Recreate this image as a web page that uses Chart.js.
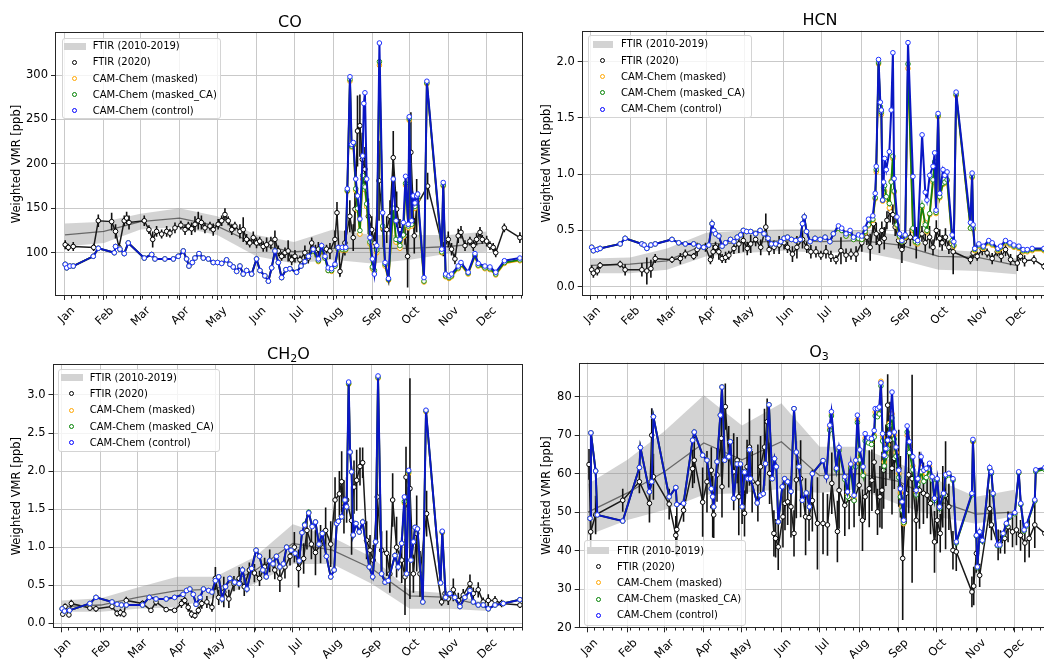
<!DOCTYPE html>
<html>
<head>
<meta charset="utf-8">
<title>FTIR vs CAM-Chem 2020</title>
<script src="https://cdn.jsdelivr.net/npm/chart.js@4.4.1/dist/chart.umd.min.js"></script>
<style>
  html, body { margin: 0; padding: 0; background: #fff; }
  body { position: relative; width: 1044px; height: 659px; overflow: hidden; font-family: "DejaVu Sans", sans-serif; color: #000; }
  .panel { position: absolute; }
  .panel canvas { display: block; }
  .title { position: absolute; font-size: 16px; line-height: 16px; transform: translate(-50%, -50%); white-space: nowrap; }
  .title sub { font-size: 11px; line-height: 0; vertical-align: -3px; }
  .legend { position: absolute; box-sizing: border-box; background: rgba(255,255,255,0.8); border: 1px solid #d4d4d4; border-radius: 3px; }
  .legend .txt { position: absolute; font-size: 10px; line-height: 12px; white-space: nowrap; }
  .legend .dot { position: absolute; width: 3px; height: 3px; border: 1px solid; border-radius: 50%; background: #fff; }
  .legend .patch { position: absolute; height: 7px; background: #d3d3d3; }
</style>
</head>
<body>
<script>
// ---- data (day of year 2020, 0 = Jan 1) ----
const monthNames = ['Jan', 'Feb', 'Mar', 'Apr', 'May', 'Jun', 'Jul', 'Aug', 'Sep', 'Oct', 'Nov', 'Dec'];
const monthStarts = [0, 31, 60, 91, 121, 152, 182, 213, 244, 274, 305, 335];

// CO
const coClimMean = [120, 124, 135, 139, 130, 109, 101, 105, 105, 105, 107, 111];
const coClimLow = [107, 111, 126, 129, 120, 96, 88, 92, 88, 92, 99, 101];
const coClimHigh = [133, 135, 144, 150, 141, 120, 112, 126, 120, 120, 120, 124];
// [day, ppb, error]
const coFtir = [[0.2,109,5],[2.7,106,4],[6.6,107,5],[22.8,106,4],[26.5,136,7],[37.1,135,10],[40.2,124,8],[42.9,106,5],[47.1,136,6],[49.0,139,7],[50.9,134,8],[63.0,136,6],[66.7,126,5],[69.7,115,9],[72.8,124,6],[76.8,121,5],[80.8,124,6],[83.4,122,5],[87.4,128,6],[92.1,131,5],[95.4,126,6],[98.0,130,5],[100.6,127,7],[103.3,132,9],[105.9,136,10],[108.4,134,8],[111.2,128,6],[115.2,130,5],[117.8,126,7],[121.7,132,6],[124.5,136,6],[127.1,143,7],[129.7,136,5],[132.5,126,6],[135.0,130,5],[139.0,124,8],[141.6,126,14],[144.3,115,6],[146.8,111,5],[149.6,117,7],[152.2,111,6],[154.7,113,5],[157.5,107,6],[160.2,109,8],[163.6,111,7],[166.8,115,10],[169.5,102,6],[172.1,96,5],[174.8,100,6],[177.3,102,12],[180.1,92,6],[182.7,96,7],[186.7,92,5],[190.6,100,8],[193.3,94,6],[196.0,111,6],[199.0,102,7],[201.3,104,8],[204.4,104,6],[207.8,104,5],[210.5,102,9],[214.5,115,10],[216.1,145,12],[218.5,79,6],[222.4,111,14],[226.3,141,18],[229.0,117,15],[230.4,149,25],[232.4,237,40],[234.3,243,35],[236.2,205,30],[238.3,194,25],[241.0,141,20],[243.7,126,15],[246.2,111,12],[249.5,181,45],[252.9,126,20],[255.6,126,15],[258.2,141,18],[260.8,207,30],[263.5,149,20],[266.1,126,12],[270.1,119,10],[272.2,96,35],[274.8,213,45],[277.5,119,20],[279.4,153,30],[288.1,175,15],[300.5,104,8],[304.5,115,9],[307.1,104,7],[309.8,93,6],[312.4,119,8],[314.6,123,7],[317.8,108,6],[321.7,113,5],[324.4,108,6],[327.0,115,7],[329.7,123,6],[331.5,115,5],[335.0,113,6],[337.6,108,5],[340.2,106,5],[342.2,100,5],[349.0,128,5],[361.4,117,6]];
// [day, ppb]
const coControl = [[0.2,87],[1.4,83],[3.9,85],[6.6,85],[22.5,96],[26.5,105],[39.2,100],[40.2,107],[43.7,104],[47.1,99],[50.3,111],[63.0,94],[68.9,98],[71.5,93],[79.4,93],[86.1,93],[90.0,96],[94.0,102],[96.6,93],[98.5,85],[101.2,89],[103.3,94],[106.5,99],[109.9,94],[113.9,93],[117.8,89],[121.2,89],[124.5,88],[128.4,92],[131.1,87],[133.7,84],[136.4,79],[139.0,85],[141.6,76],[144.3,80],[148.3,76],[152.2,93],[154.9,80],[158.8,74],[161.6,68],[164.2,83],[166.8,102],[169.5,89],[172.1,72],[175.6,81],[178.7,82],[184.0,78],[187.5,85],[190.6,90],[193.4,96],[197.2,104],[201.3,93],[203.9,108],[206.6,96],[209.1,83],[211.8,82],[214.5,87],[217.1,106],[220.3,106],[223.0,106],[224.3,172],[226.4,298],[227.7,222],[229.1,224],[231.0,183],[232.4,164],[234.3,138],[236.5,209],[237.4,268],[238.3,280],[239.7,183],[242.3,117],[244.2,93],[245.8,76],[247.7,108],[249.8,336],[252.4,145],[254.3,89],[257.0,71],[260.8,183],[263.0,136],[266.1,115],[268.8,134],[270.6,186],[272.7,132],[273.5,253],[275.4,136],[276.7,164],[278.0,156],[279.4,164],[280.2,166],[285.2,72],[287.5,293],[299.3,104],[300.5,179],[302.4,76],[305.1,74],[307.1,76],[312.4,85],[314.6,89],[320.3,78],[325.7,99],[328.3,88],[333.6,85],[337.6,84],[342.2,78],[349.1,91],[361.4,94]];
const coMaskedCA = [[0.2,87],[1.4,83],[3.9,85],[6.6,85],[22.5,96],[26.5,105],[39.2,100],[40.2,107],[43.7,104],[47.1,99],[50.3,111],[63.0,94],[68.9,98],[71.5,93],[79.4,93],[86.1,93],[90.0,96],[94.0,102],[96.6,93],[98.5,85],[101.2,89],[103.3,94],[106.5,99],[109.9,94],[113.9,93],[117.8,89],[121.2,89],[124.5,88],[128.4,92],[131.1,87],[133.7,84],[136.4,79],[139.0,85],[141.6,76],[144.3,80],[148.3,76],[152.2,93],[154.9,80],[158.8,74],[161.6,68],[164.2,83],[166.8,102],[169.5,89],[172.1,72],[175.6,81],[178.7,82],[184.0,78],[187.5,85],[190.6,90],[193.4,96],[197.2,102],[201.3,91],[203.9,105],[206.6,94],[209.1,80],[211.8,80],[214.5,85],[217.1,104],[220.3,104],[223.0,104],[224.3,170],[226.4,295],[227.7,220],[229.1,222],[231.0,172],[232.4,150],[234.3,125],[236.5,187],[237.4,175],[238.3,174],[239.7,155],[242.3,112],[244.2,84],[245.8,80],[247.7,103],[249.8,315],[252.4,130],[254.3,87],[257.0,70],[260.8,150],[263.0,115],[266.1,108],[268.8,120],[270.6,178],[272.7,130],[273.5,251],[275.4,132],[276.7,160],[278.0,152],[279.4,158],[280.2,162],[285.2,68],[287.5,291],[299.3,101],[300.5,176],[302.4,74],[305.1,72],[307.1,74],[312.4,83],[314.6,87],[320.3,77],[325.7,97],[328.3,86],[333.6,83],[337.6,82],[342.2,76],[349.1,89],[361.4,92]];
const coMasked = [[0.2,87],[1.4,83],[3.9,85],[6.6,85],[22.5,96],[26.5,105],[39.2,100],[40.2,107],[43.7,104],[47.1,99],[50.3,111],[63.0,94],[68.9,98],[71.5,93],[79.4,93],[86.1,93],[90.0,96],[94.0,102],[96.6,93],[98.5,85],[101.2,89],[103.3,94],[106.5,99],[109.9,94],[113.9,93],[117.8,89],[121.2,89],[124.5,88],[128.4,92],[131.1,87],[133.7,84],[136.4,79],[139.0,85],[141.6,76],[144.3,80],[148.3,76],[152.2,93],[154.9,80],[158.8,74],[161.6,68],[164.2,83],[166.8,102],[169.5,89],[172.1,72],[175.6,81],[178.7,82],[184.0,78],[187.5,85],[190.6,90],[193.4,96],[197.2,102],[201.3,90],[203.9,104],[206.6,94],[209.1,80],[211.8,79],[214.5,85],[217.1,103],[220.3,103],[223.0,103],[224.3,169],[226.4,293],[227.7,219],[229.1,221],[231.0,170],[232.4,148],[234.3,121],[236.5,183],[237.4,172],[238.3,171],[239.7,152],[242.3,110],[244.2,82],[245.8,78],[247.7,100],[249.8,311],[252.4,128],[254.3,85],[257.0,69],[260.8,148],[263.0,112],[266.1,105],[268.8,118],[270.6,176],[272.7,128],[273.5,249],[275.4,130],[276.7,158],[278.0,150],[279.4,156],[280.2,160],[285.2,67],[287.5,290],[299.3,100],[300.5,175],[302.4,73],[305.1,71],[307.1,73],[312.4,82],[314.6,86],[320.3,76],[325.7,96],[328.3,85],[333.6,82],[337.6,81],[342.2,75],[349.1,88],[361.4,91]];

// HCN
const hcnClimMean = [0.19, 0.20, 0.23, 0.38, 0.39, 0.41, 0.40, 0.41, 0.37, 0.27, 0.26, 0.19];
const hcnClimLow = [0.12, 0.12, 0.15, 0.27, 0.30, 0.32, 0.30, 0.31, 0.24, 0.15, 0.14, 0.11];
const hcnClimHigh = [0.25, 0.26, 0.34, 0.48, 0.50, 0.51, 0.51, 0.50, 0.46, 0.33, 0.31, 0.25];
const hcnFtir = [[0.8,0.15,0.04],[2.1,0.12,0.04],[5.2,0.14,0.04],[7.4,0.19,0.03],[23.2,0.20,0.03],[27.1,0.15,0.05],[40.3,0.15,0.06],[44.2,0.14,0.12],[47.4,0.16,0.08],[50.8,0.25,0.04],[64,0.24,0.03],[70.6,0.25,0.05],[74.5,0.29,0.04],[81.1,0.27,0.03],[83.8,0.33,0.06],[90.4,0.35,0.04],[94.3,0.24,0.04],[96.4,0.31,0.06],[98.3,0.35,0.05],[100.9,0.31,0.07],[103.5,0.25,0.04],[106.2,0.26,0.05],[108.8,0.28,0.04],[112.8,0.34,0.05],[116.7,0.38,0.08],[120.2,0.41,0.10],[123.3,0.34,0.06],[126,0.38,0.08],[129.9,0.42,0.06],[133.9,0.35,0.07],[137.9,0.53,0.12],[140.5,0.33,0.05],[144.4,0.35,0.06],[148.4,0.37,0.08],[152.3,0.39,0.06],[155,0.35,0.05],[158.9,0.29,0.07],[162.4,0.35,0.10],[166.8,0.42,0.08],[170.2,0.35,0.05],[173.4,0.31,0.06],[177.4,0.31,0.05],[181.3,0.28,0.04],[185.3,0.31,0.06],[189.2,0.27,0.05],[193.2,0.24,0.04],[197.1,0.32,0.12],[201.1,0.28,0.06],[205,0.29,0.05],[209,0.29,0.07],[213.5,0.39,0.08],[217.5,0.44,0.07],[220.1,0.35,0.12],[222.7,0.56,0.08],[224.9,0.47,0.10],[227.4,0.39,0.09],[229.3,0.50,0.08],[231.2,0.43,0.10],[233.3,0.59,0.08],[235.9,0.67,0.10],[238,0.64,0.09],[239.8,0.53,0.08],[242.5,0.41,0.07],[245.1,0.33,0.12],[246.9,0.40,0.06],[251.7,0.44,0.08],[256.4,0.39,0.14],[260.9,0.47,0.07],[263.5,0.39,0.08],[266.9,0.44,0.10],[269.6,0.35,0.07],[272.2,0.50,0.09],[274.9,0.43,0.08],[276.8,0.39,0.07],[279.4,0.44,0.08],[282.1,0.35,0.06],[285.5,0.31,0.20],[299.1,0.24,0.04],[301.2,0.30,0.05],[304.4,0.27,0.04],[308.4,0.33,0.05],[312.2,0.30,0.04],[316.2,0.25,0.05],[320.2,0.31,0.04],[323.3,0.27,0.05],[326.7,0.33,0.06],[330.7,0.24,0.05],[336,0.21,0.07],[338.5,0.27,0.04],[341.7,0.23,0.05],[349.1,0.24,0.04],[357,0.18,0.03]];
const hcnControl = [[0.8,0.35],[2.1,0.32],[5.2,0.33],[7.4,0.34],[23.2,0.38],[27.1,0.43],[40.3,0.38],[42.1,0.37],[44.2,0.34],[47.4,0.37],[50.8,0.38],[64,0.42],[69.3,0.39],[74.5,0.38],[81.1,0.38],[85.1,0.36],[89,0.35],[93,0.37],[95.6,0.56],[96.9,0.50],[98.3,0.47],[100.9,0.45],[103.5,0.36],[106.2,0.39],[110.1,0.42],[112.8,0.40],[115.4,0.44],[118.1,0.46],[120.2,0.50],[122.8,0.49],[126,0.49],[129.9,0.47],[133.4,0.50],[136.5,0.47],[139.7,0.43],[142.3,0.38],[145.7,0.38],[149.7,0.40],[152.3,0.43],[155,0.44],[158.1,0.42],[161.5,0.41],[165,0.42],[166.8,0.56],[168.2,0.62],[170,0.49],[172.8,0.40],[176.7,0.43],[180.7,0.42],[184.6,0.44],[188.4,0.40],[191.1,0.47],[195.1,0.54],[197.7,0.52],[201.1,0.47],[204.3,0.50],[207,0.44],[210.9,0.46],[213.5,0.45],[216.1,0.52],[218.8,0.60],[222.2,0.63],[224.1,0.83],[224.9,1.07],[226.7,2.02],[228.1,1.64],[228.9,1.57],[229.9,0.77],[230.7,0.93],[231.5,1.14],[232.8,1.04],[235.2,1.20],[236.7,1.57],[238,2.08],[239,0.96],[241.2,0.62],[243.3,0.47],[245.1,0.41],[247.7,0.46],[249.9,2.17],[253.8,0.98],[255.7,0.43],[257.5,0.41],[261,1.35],[263.5,0.84],[264.8,0.77],[267,0.99],[269.6,1.07],[270.9,1.19],[272,0.68],[273.6,1.54],[274.9,0.83],[277.5,1.04],[278.9,0.99],[280.7,1.02],[284.7,0.46],[286,0.40],[287.8,1.73],[299.1,0.57],[300.4,1.01],[301.2,0.55],[302.5,0.34],[305.7,0.38],[309.2,0.36],[313.5,0.41],[316.2,0.39],[320.7,0.34],[322.8,0.36],[326.7,0.41],[330.2,0.39],[333.3,0.37],[337.2,0.36],[340.6,0.33],[343.8,0.33],[347.7,0.34],[357,0.34],[364,0.34]];
const hcnMaskedCA = [[0.8,0.35],[2.1,0.32],[5.2,0.33],[7.4,0.34],[23.2,0.38],[27.1,0.43],[40.3,0.38],[42.1,0.37],[44.2,0.34],[47.4,0.37],[50.8,0.38],[64,0.42],[69.3,0.39],[74.5,0.38],[81.1,0.38],[85.1,0.36],[89,0.35],[93,0.37],[95.6,0.56],[96.9,0.50],[98.3,0.47],[100.9,0.45],[103.5,0.36],[106.2,0.39],[110.1,0.42],[112.8,0.40],[115.4,0.44],[118.1,0.46],[120.2,0.50],[122.8,0.49],[126,0.49],[129.9,0.47],[133.4,0.50],[136.5,0.47],[139.7,0.43],[142.3,0.38],[145.7,0.38],[149.7,0.40],[152.3,0.43],[155,0.44],[158.1,0.42],[161.5,0.41],[165,0.42],[166.8,0.56],[168.2,0.62],[170,0.49],[172.8,0.40],[176.7,0.43],[180.7,0.42],[184.6,0.44],[188.4,0.40],[191.1,0.47],[195.1,0.52],[197.7,0.50],[201.1,0.45],[204.3,0.48],[207,0.42],[210.9,0.43],[213.5,0.42],[216.1,0.49],[218.8,0.55],[222.2,0.60],[224.1,0.79],[224.9,1.04],[226.7,1.99],[228.1,1.60],[228.9,1.55],[229.9,0.77],[230.7,0.88],[231.5,0.90],[232.8,0.80],[235.2,0.74],[236.7,0.93],[238,1.16],[239,0.85],[241.2,0.55],[243.3,0.45],[245.1,0.40],[247.7,0.45],[249.9,1.98],[253.8,0.52],[255.7,0.40],[257.5,0.39],[261,0.72],[263.5,0.55],[264.8,0.50],[267,0.65],[269.6,0.95],[270.9,1.11],[272,0.66],[273.6,1.52],[274.9,0.80],[277.5,0.92],[278.9,0.93],[280.7,0.95],[284.7,0.41],[286,0.37],[287.8,1.71],[299.1,0.52],[300.4,0.98],[301.2,0.52],[302.5,0.33],[305.7,0.37],[309.2,0.35],[313.5,0.40],[316.2,0.38],[320.7,0.33],[322.8,0.35],[326.7,0.40],[330.2,0.38],[333.3,0.36],[337.2,0.35],[340.6,0.32],[343.8,0.32],[347.7,0.33],[357,0.33],[364,0.33]];
const hcnMasked = [[0.8,0.35],[2.1,0.32],[5.2,0.33],[7.4,0.34],[23.2,0.38],[27.1,0.43],[40.3,0.38],[42.1,0.37],[44.2,0.34],[47.4,0.37],[50.8,0.38],[64,0.42],[69.3,0.39],[74.5,0.38],[81.1,0.38],[85.1,0.36],[89,0.35],[93,0.37],[95.6,0.56],[96.9,0.50],[98.3,0.47],[100.9,0.45],[103.5,0.36],[106.2,0.39],[110.1,0.42],[112.8,0.40],[115.4,0.44],[118.1,0.46],[120.2,0.50],[122.8,0.49],[126,0.49],[129.9,0.47],[133.4,0.50],[136.5,0.47],[139.7,0.43],[142.3,0.38],[145.7,0.38],[149.7,0.40],[152.3,0.43],[155,0.44],[158.1,0.42],[161.5,0.41],[165,0.42],[166.8,0.56],[168.2,0.62],[170,0.49],[172.8,0.40],[176.7,0.43],[180.7,0.42],[184.6,0.44],[188.4,0.40],[191.1,0.47],[195.1,0.52],[197.7,0.50],[201.1,0.45],[204.3,0.48],[207,0.42],[210.9,0.43],[213.5,0.42],[216.1,0.48],[218.8,0.54],[222.2,0.59],[224.1,0.78],[224.9,1.02],[226.7,1.98],[228.1,1.58],[228.9,1.53],[229.9,0.76],[230.7,0.86],[231.5,0.85],[232.8,0.78],[235.2,0.70],[236.7,0.94],[238,1.14],[239,0.84],[241.2,0.54],[243.3,0.44],[245.1,0.40],[247.7,0.44],[249.9,1.94],[253.8,0.50],[255.7,0.39],[257.5,0.38],[261,0.70],[263.5,0.57],[264.8,0.49],[267,0.64],[269.6,0.93],[270.9,1.10],[272,0.65],[273.6,1.51],[274.9,0.79],[277.5,0.91],[278.9,0.92],[280.7,0.94],[284.7,0.40],[286,0.36],[287.8,1.70],[299.1,0.52],[300.4,0.97],[301.2,0.51],[302.5,0.32],[305.7,0.36],[309.2,0.34],[313.5,0.39],[316.2,0.37],[320.7,0.32],[322.8,0.34],[326.7,0.39],[330.2,0.37],[333.3,0.35],[337.2,0.34],[340.6,0.31],[343.8,0.31],[347.7,0.32],[357,0.32],[364,0.32]];

// CH2O
const ch2oClimMean = [0.22, 0.24, 0.34, 0.43, 0.45, 0.69, 1.05, 0.96, 0.72, 0.36, 0.34, 0.22];
const ch2oClimLow = [0.15, 0.15, 0.19, 0.21, 0.34, 0.52, 0.78, 0.78, 0.52, 0.19, 0.19, 0.16];
const ch2oClimHigh = [0.30, 0.33, 0.47, 0.61, 0.61, 0.87, 1.30, 1.13, 0.87, 0.43, 0.39, 0.26];
const ch2oFtir = [[1.1,0.12,0.03],[2.9,0.22,0.04],[5.9,0.11,0.03],[7.8,0.26,0.05],[22.4,0.20,0.03],[27.2,0.19,0.04],[39.8,0.22,0.04],[43.8,0.13,0.04],[46.4,0.14,0.05],[49.1,0.12,0.04],[51,0.30,0.05],[63.8,0.26,0.04],[70.4,0.17,0.03],[74.4,0.28,0.05],[82.4,0.18,0.03],[89,0.17,0.03],[94.4,0.26,0.06],[97,0.30,0.05],[99.7,0.21,0.06],[102.4,0.12,0.05],[105,0.10,0.04],[107.7,0.17,0.05],[110.4,0.26,0.07],[114.4,0.28,0.08],[118.4,0.21,0.06],[121.1,0.59,0.15],[123.7,0.34,0.10],[127.7,0.41,0.20],[131.7,0.32,0.12],[135.7,0.52,0.10],[139.8,0.59,0.15],[143.8,0.48,0.12],[147.8,0.70,0.10],[151.8,0.66,0.12],[155.8,0.59,0.10],[159.8,0.74,0.12],[163.8,0.82,0.15],[167.8,0.70,0.12],[171.8,0.59,0.18],[175.8,0.74,0.15],[179.8,0.88,0.12],[183.2,1.00,0.20],[186.5,0.72,0.25],[190.5,0.85,0.20],[193.1,1.22,0.25],[196.6,1.04,0.20],[199.8,0.93,0.30],[203.8,1.04,0.25],[207.8,1.22,0.30],[211.8,1.04,0.30],[215.2,1.62,0.30],[218.6,1.70,0.30],[220.4,1.86,0.40],[222.2,1.53,0.35],[224.3,1.62,0.30],[228.2,1.35,0.45],[230.1,1.79,0.35],[232.2,1.88,0.40],[234.8,2.06,0.25],[236.9,2.11,0.20],[240.0,1.09,0.25],[242.7,0.96,0.20],[245.2,0.83,0.20],[248.4,1.66,0.60],[251.8,0.96,0.25],[255.8,0.92,0.30],[258.3,0.65,0.25],[260.5,1.62,0.35],[263.6,1.00,0.40],[267.6,0.83,0.30],[270.2,0.61,0.50],[271.0,1.92,0.40],[274.1,1.77,1.45],[276.8,0.65,0.25],[279.4,1.18,0.50],[282.0,0.65,0.30],[287.2,1.44,0.30],[299.0,0.28,0.05],[301.7,0.39,0.10],[304.2,0.32,0.08],[308.2,0.44,0.15],[312.1,0.30,0.10],[316.0,0.37,0.08],[321.3,0.52,0.12],[323.9,0.39,0.08],[327.8,0.44,0.10],[331.7,0.28,0.06],[335.7,0.30,0.08],[341.0,0.30,0.06],[346.2,0.26,0.05],[360.6,0.24,0.04]];
const ch2oControl = [[0.6,0.19],[2.4,0.16],[6.4,0.17],[22.4,0.26],[27.2,0.34],[39.8,0.28],[43.8,0.25],[47.2,0.24],[51,0.24],[63.8,0.24],[69.1,0.34],[74.4,0.32],[82.4,0.32],[89,0.34],[95.7,0.38],[98.4,0.43],[101,0.45],[103.7,0.38],[105.9,0.25],[109.1,0.34],[111.7,0.45],[115.8,0.43],[118.4,0.41],[121.1,0.56],[123.7,0.61],[126.4,0.32],[129.1,0.48],[132.5,0.59],[136.3,0.54],[139.8,0.52],[142.4,0.70],[145.9,0.45],[149.6,0.72],[153.1,0.96],[155.8,0.88],[158.4,0.70],[161.1,0.61],[163.8,0.82],[166.4,0.78],[169.1,0.88],[171.8,0.74],[174.5,0.78],[177.1,1.00],[180.6,0.96],[183.8,0.92],[187,0.82],[189.2,1.19],[191.3,1.29],[194.5,1.45],[197.2,1.27],[199.8,1.33],[202.5,1.04],[205.2,1.18],[208.4,0.88],[211.8,0.61],[214.5,0.70],[216.5,1.31],[217.8,1.34],[220.4,1.40],[223.0,1.62],[224.3,1.53],[225.9,3.17],[227.0,2.25],[228.2,1.99],[229.5,1.16],[231.7,1.31],[234.2,1.20],[236.9,1.33],[242.1,0.74],[244.8,0.61],[247.1,1.07],[249.0,3.25],[251.8,0.65],[254.5,0.54],[257.0,0.56],[262.3,0.89],[264.9,0.74],[267.6,1.05],[269.7,1.66],[271.5,0.65],[273.1,2.01],[274.9,0.83],[276.8,1.07],[278.1,1.26],[280.0,1.24],[284.2,0.28],[286.7,2.80],[298.2,0.53],[299.5,1.21],[302.2,0.34],[305.5,0.39],[309.4,0.34],[313.4,0.22],[317.3,0.34],[321.3,0.43],[323.9,0.28],[327.8,0.24],[331.7,0.24],[335.7,0.19],[341.0,0.24],[347.5,0.26],[360.6,0.31]];
const ch2oMaskedCA = [[0.6,0.19],[2.4,0.16],[6.4,0.17],[22.4,0.26],[27.2,0.34],[39.8,0.28],[43.8,0.25],[47.2,0.24],[51,0.24],[63.8,0.24],[69.1,0.34],[74.4,0.32],[82.4,0.32],[89,0.34],[95.7,0.38],[98.4,0.43],[101,0.45],[103.7,0.38],[105.9,0.25],[109.1,0.34],[111.7,0.45],[115.8,0.43],[118.4,0.41],[121.1,0.56],[123.7,0.61],[126.4,0.32],[129.1,0.48],[132.5,0.59],[136.3,0.54],[139.8,0.52],[142.4,0.70],[145.9,0.45],[149.6,0.72],[153.1,0.96],[155.8,0.88],[158.4,0.70],[161.1,0.61],[163.8,0.82],[166.4,0.78],[169.1,0.88],[171.8,0.74],[174.5,0.78],[177.1,1.00],[180.6,0.96],[183.8,0.92],[187,0.82],[189.2,1.19],[191.3,1.30],[194.5,1.46],[197.2,1.28],[199.8,1.33],[202.5,1.04],[205.2,1.18],[208.4,0.88],[211.8,0.61],[214.5,0.70],[216.5,1.31],[217.8,1.34],[220.4,1.40],[223.0,1.60],[224.3,1.53],[225.9,3.15],[227.0,2.25],[228.2,1.99],[229.5,1.16],[231.7,1.31],[234.2,1.20],[236.9,1.33],[242.1,0.74],[244.8,0.61],[247.1,1.07],[249.0,3.23],[251.8,0.65],[254.5,0.54],[257.0,0.56],[262.3,0.89],[264.9,0.74],[267.6,1.05],[269.7,1.60],[271.5,0.65],[273.1,1.99],[274.9,0.83],[276.8,1.07],[278.1,1.26],[280.0,1.24],[284.2,0.28],[286.7,2.79],[298.2,0.53],[299.5,1.20],[302.2,0.34],[305.5,0.39],[309.4,0.34],[313.4,0.22],[317.3,0.34],[321.3,0.43],[323.9,0.28],[327.8,0.24],[331.7,0.24],[335.7,0.19],[341.0,0.24],[347.5,0.26],[360.6,0.31]];
const ch2oMasked = [[0.6,0.19],[2.4,0.16],[6.4,0.17],[22.4,0.26],[27.2,0.34],[39.8,0.28],[43.8,0.25],[47.2,0.24],[51,0.24],[63.8,0.24],[69.1,0.34],[74.4,0.32],[82.4,0.32],[89,0.34],[95.7,0.38],[98.4,0.43],[101,0.45],[103.7,0.38],[105.9,0.25],[109.1,0.34],[111.7,0.45],[115.8,0.43],[118.4,0.41],[121.1,0.56],[123.7,0.61],[126.4,0.32],[129.1,0.48],[132.5,0.59],[136.3,0.54],[139.8,0.52],[142.4,0.70],[145.9,0.45],[149.6,0.72],[153.1,0.96],[155.8,0.88],[158.4,0.70],[161.1,0.61],[163.8,0.82],[166.4,0.78],[169.1,0.88],[171.8,0.74],[174.5,0.78],[177.1,1.00],[180.6,0.96],[183.8,0.92],[187,0.82],[189.2,1.19],[191.3,1.29],[194.5,1.45],[197.2,1.27],[199.8,1.33],[202.5,1.04],[205.2,1.18],[208.4,0.88],[211.8,0.61],[214.5,0.70],[216.5,1.31],[217.8,1.34],[220.4,1.40],[223.0,1.58],[224.3,1.53],[225.9,3.14],[227.0,2.25],[228.2,1.99],[229.5,1.16],[231.7,1.31],[234.2,1.20],[236.9,1.33],[242.1,0.74],[244.8,0.61],[247.1,1.07],[249.0,3.22],[251.8,0.65],[254.5,0.54],[257.0,0.56],[262.3,0.89],[264.9,0.74],[267.6,1.05],[269.7,1.58],[271.5,0.65],[273.1,1.97],[274.9,0.83],[276.8,1.07],[278.1,1.26],[280.0,1.24],[284.2,0.28],[286.7,2.78],[298.2,0.53],[299.5,1.19],[302.2,0.34],[305.5,0.39],[309.4,0.34],[313.4,0.22],[317.3,0.34],[321.3,0.43],[323.9,0.28],[327.8,0.24],[331.7,0.24],[335.7,0.19],[341.0,0.24],[347.5,0.26],[360.6,0.31]];

// O3
const o3ClimMean = [50, 55, 60.5, 68, 63.6, 68.3, 59.5, 60, 58, 53, 49.5, 50];
const o3ClimLow = [44, 48, 50.6, 54.5, 55, 56, 55, 56, 52, 48.8, 47, 49];
const o3ClimHigh = [57.3, 63.6, 71, 80.4, 72.5, 78.3, 67, 67, 62.7, 58.4, 54, 55.8];
const o3Ftir = [[0.8,62.4,4],[2.1,44.9,4],[6,49.3,5],[27.3,53.1,3],[40.4,57.9,3],[48.3,52.3,5],[50.1,70,7],[51.4,59.2,6],[63.8,52.1,4],[69,44,5],[69.8,45.5,7],[75.1,50.5,3],[82.2,61.3,5],[83.5,63.5,6],[90.1,52.6,9],[93.5,57.9,8],[96.9,60.9,6],[98,51.4,8],[98.8,49.3,6],[101.4,59.7,7],[104.8,69.2,10],[105.3,56.6,8],[107.9,77.4,6],[110.6,64.4,8],[114.5,60.5,10],[117.2,63.5,6],[118.5,54,10],[121.1,54.9,8],[123,49.7,6],[125,61.8,7],[126.9,66.9,10],[129,57.9,8],[133.5,57.6,10],[135.6,61.8,8],[138.7,66.9,10],[140.8,73.5,6],[142.7,60.1,8],[146.1,44.5,6],[147.4,43.2,5],[149.5,41,6],[153.2,48.8,8],[154.8,52.3,7],[156.9,52.7,6],[159.5,51.4,8],[161.9,44.5,6],[163.7,58.4,10],[167.1,58.7,10],[171,48.8,10],[173.7,48.6,6],[176.3,53,8],[180.3,47.1,12],[184.7,47.1,8],[188.2,46.7,8],[191.6,57.5,8],[196,45,8],[197.3,55.7,10],[201.8,51.8,8],[205.2,53.6,8],[209.1,53.1,7],[213.1,57,8],[215.7,47.9,8],[217.8,54,6],[221,56.1,10],[223.1,58.3,8],[224.9,63,8],[227.5,50.1,6],[229.4,54,8],[231,55.7,10],[232.3,60.9,10],[234.1,64.8,8],[235.5,77.8,8],[237.3,68.7,10],[238.9,61.4,12],[240.7,64,8],[244.2,61.4,10],[245.5,56.6,8],[247.3,38,16],[249.9,54.9,8],[252,59.7,10],[254.7,58.7,27],[257.9,47.9,8],[260.5,55.7,10],[263.6,54.9,8],[266.5,54.4,6],[269.2,52.3,8],[272.3,42.3,8],[274.4,47.9,6],[276.8,44.5,5],[278.8,54,8],[281,54.4,14],[283.6,51.4,6],[286.8,40.1,5],[289.4,39.7,5],[301.7,29.3,4],[303.1,30.8,5],[305.2,39.3,5],[307.8,33.6,3],[315.7,50.9,5],[317,46.7,4],[322.3,41.5,4],[324.1,42.3,3],[327.5,43.2,4],[330.1,46.2,4],[333.6,44.9,4],[336.7,45.4,4],[339.9,44,4],[343.3,42,5],[346.7,43.2,5],[351.1,46.7,6],[359,44.5,5],[364,43,4]];
const o3Control = [[1.6,48.4],[2.3,70.6],[6,60.7],[7.3,49.3],[27.3,47.7],[40.4,61.6],[41.2,66.8],[48.3,55.3],[50.1,57.9],[51.4,74.8],[63.8,54],[69,56.4],[69.8,52],[75.1,52.3],[82.2,68.7],[83.5,70.8],[90.1,64.8],[93.5,63.5],[96.9,56.1],[98,54],[98.8,51.4],[101.4,63.1],[104,75.2],[105.3,82.5],[107.4,63.5],[110.6,64.4],[111.9,68.3],[114.5,53.6],[117.2,62.5],[119.8,62.5],[121.1,51.4],[123,60.4],[125.6,58.7],[126.9,66.2],[127.7,58.7],[133,52.4],[135.6,54.4],[137.7,54.8],[139.5,62.6],[142.2,77.9],[144.8,58.7],[146.6,63.9],[148,61.8],[149.5,47.5],[152.7,56.6],[154.5,58.7],[156.9,57.9],[159.5,55.4],[161.9,76.9],[163.7,65.6],[165.8,61.8],[168.4,53.1],[171.5,55],[174,51.4],[176.3,60],[184.7,63.4],[187.3,59.2],[190,72.6],[191.3,76.1],[195.2,61.4],[197.3,66.8],[201.8,59.2],[203.9,55.3],[206.5,62.5],[209.1,54.4],[210.4,63.5],[211.7,75.2],[213.6,66.2],[216.2,61.8],[217.8,70.4],[220.4,69.3],[222.8,69.1],[224.9,71.2],[225.7,76.9],[227.5,76.9],[228.9,77.3],[230.2,83.6],[231.5,70.4],[232.8,64.8],[234.1,66.5],[235.5,68.7],[236.8,70.4],[238.9,81.2],[240.7,70.8],[242.1,66.9],[244.2,60.9],[245.5,56.1],[246.8,52.7],[248.1,47.9],[250.8,72.4],[252.6,68.3],[255.3,64.4],[257.9,55.7],[259.2,58.7],[261.8,64.4],[263.9,60.9],[265.8,61.4],[268.4,62.7],[270.5,59.2],[272.3,53.6],[274.4,58.7],[276.3,51.4],[279.4,54.9],[281,59.7],[283.6,60.1],[286.8,58.7],[289.4,42.3],[301.7,54.9],[302.5,68.9],[305.2,44],[306,35.8],[307.8,44.9],[309.9,42.7],[315.7,61.6],[317,60.5],[318.3,54.9],[321.7,41.5],[323.6,41.5],[326.2,44.5],[328.8,47.1],[331.4,49],[335.4,49.9],[338.5,60.5],[340.1,52.3],[342.7,45.4],[344.6,46.7],[351.1,53.2],[351.9,61],[359,61.6],[364,61.8]];
const o3MaskedCA = [[1.6,48.4],[2.3,70.6],[6,60.7],[7.3,49.3],[27.3,47.7],[40.4,61.6],[41.2,66.8],[48.3,55.3],[50.1,57.9],[51.4,74.8],[63.8,54],[69,56.4],[69.8,52],[75.1,52.3],[82.2,68.7],[83.5,70.8],[90.1,64.8],[93.5,63.5],[96.9,56.1],[98,54],[98.8,51.4],[101.4,63.1],[104,75.2],[105.3,82.5],[107.4,63.5],[110.6,64.4],[111.9,68.3],[114.5,53.6],[117.2,62.5],[119.8,62.5],[121.1,51.4],[123,60.4],[125.6,58.7],[126.9,66.2],[127.7,58.7],[133,52.4],[135.6,54.4],[137.7,54.8],[139.5,62.6],[142.2,77.9],[144.8,58.7],[146.6,63.9],[148,61.8],[149.5,47.5],[152.7,56.6],[154.5,58.7],[156.9,57.9],[159.5,55.4],[161.9,76.9],[163.7,65.6],[165.8,61.8],[168.4,53.1],[171.5,55],[174,51.4],[176.3,60],[184.7,63.4],[187.3,59.2],[190,71.3],[191.3,75],[195.2,61],[197.3,66],[201.8,58.5],[203.9,54],[206.5,61.5],[209.1,53],[210.4,61.8],[211.7,73.3],[213.6,63.6],[216.2,59.5],[217.8,68.5],[220.4,68],[222.8,67.6],[224.9,69.5],[225.7,75],[227.5,74.8],[228.9,75.5],[230.2,82.8],[231.5,68.5],[232.8,62],[234.1,64.5],[235.5,66.5],[236.8,72.5],[238.9,74.5],[240.7,69],[242.1,64.5],[244.2,59],[245.5,54],[246.8,50.5],[248.1,47.3],[250.8,70.8],[252.6,65.5],[255.3,61],[257.9,54.5],[259.2,57.2],[261.8,60.5],[263.9,58],[265.8,59],[268.4,61.2],[270.5,58.3],[272.3,53],[274.4,58.3],[276.3,51],[279.4,54.5],[281,59.3],[283.6,59.7],[286.8,58.3],[289.4,42],[301.7,54.5],[302.5,68.5],[305.2,43.8],[306,35.6],[307.8,44.6],[309.9,42.5],[315.7,61.2],[317,60.1],[318.3,54.6],[321.7,41.3],[323.6,41.3],[326.2,44.2],[328.8,46.8],[331.4,48.7],[335.4,49.6],[338.5,60.2],[340.1,52],[342.7,45.1],[344.6,46.4],[351.1,52.9],[351.9,60.6],[359,61.1],[364,61.3]];
const o3Masked = [[1.6,48.4],[2.3,70.6],[6,60.7],[7.3,49.3],[27.3,47.7],[40.4,61.6],[41.2,66.8],[48.3,55.3],[50.1,57.9],[51.4,74.8],[63.8,54],[69,56.4],[69.8,52],[75.1,52.3],[82.2,68.7],[83.5,70.8],[90.1,64.8],[93.5,63.5],[96.9,56.1],[98,54],[98.8,51.4],[101.4,63.1],[104,75.2],[105.3,82.5],[107.4,63.5],[110.6,64.4],[111.9,68.3],[114.5,53.6],[117.2,62.5],[119.8,62.5],[121.1,51.4],[123,60.4],[125.6,58.7],[126.9,66.2],[127.7,58.7],[133,52.4],[135.6,54.4],[137.7,54.8],[139.5,62.6],[142.2,77.9],[144.8,58.7],[146.6,63.9],[148,61.8],[149.5,47.5],[152.7,56.6],[154.5,58.7],[156.9,57.9],[159.5,55.4],[161.9,76.9],[163.7,65.6],[165.8,61.8],[168.4,53.1],[171.5,55],[174,51.4],[176.3,60],[184.7,63.4],[187.3,59.2],[190,72],[191.3,75.5],[195.2,61.2],[197.3,66.4],[201.8,58.8],[203.9,54.5],[206.5,62],[209.1,53.5],[210.4,62.5],[211.7,74],[213.6,64],[216.2,60],[217.8,69.2],[220.4,68.5],[222.8,68],[224.9,70],[225.7,76],[227.5,75.5],[228.9,76.8],[230.2,84],[231.5,69.5],[232.8,63],[234.1,65.5],[235.5,67.5],[236.8,73],[238.9,75.5],[240.7,70],[242.1,65.5],[244.2,60],[245.5,55],[246.8,51.5],[248.1,47],[250.8,70],[252.6,66.5],[255.3,62],[257.9,55],[259.2,58],[261.8,61.5],[263.9,59],[265.8,60],[268.4,61.8],[270.5,58.8],[272.3,53.3],[274.4,58.5],[276.3,51.2],[279.4,54.7],[281,59.5],[283.6,59.9],[286.8,58.5],[289.4,42.1],[301.7,54.7],[302.5,68.3],[305.2,43.9],[306,35.7],[307.8,44.7],[309.9,42.6],[315.7,61.4],[317,60.3],[318.3,54.7],[321.7,41.4],[323.6,41.4],[326.2,44.3],[328.8,46.9],[331.4,48.8],[335.4,49.7],[338.5,60.3],[340.1,52.1],[342.7,45.2],[344.6,46.5],[351.1,53],[351.9,60.7],[359,61.2],[364,61.5]];

const legendLabels = ['FTIR (2010-2019)', 'FTIR (2020)', 'CAM-Chem (masked)', 'CAM-Chem (masked_CA)', 'CAM-Chem (control)'];
const legendColors = [null, '#000000', '#ffa500', '#008000', '#0000ff'];

// ---- drawing ----
Chart.defaults.font.family = '"DejaVu Sans", sans-serif';
Chart.defaults.color = '#000';

// vertical error bars for the FTIR 2020 series, drawn just under its line
const errorBars = {
    id: 'errorBars',
    beforeDatasetDraw(chart, args) {
        const ds = chart.data.datasets[args.index];
        if (!ds.errors) return;
        const xs = chart.scales.x, ys = chart.scales.y, a = chart.chartArea, ctx = chart.ctx;
        ctx.save();
        ctx.beginPath();
        ctx.rect(a.left, a.top, a.right - a.left, a.bottom - a.top);
        ctx.clip();
        ctx.strokeStyle = '#111';
        ctx.lineWidth = 1.6;
        ds.data.forEach(function (pt, i) {
            const px = xs.getPixelForValue(pt.x);
            ctx.beginPath();
            ctx.moveTo(px, ys.getPixelForValue(pt.y - ds.errors[i]));
            ctx.lineTo(px, ys.getPixelForValue(pt.y + ds.errors[i]));
            ctx.stroke();
        });
        ctx.restore();
    }
};

// axes frame + weekly minor ticks
const frame = {
    id: 'frame',
    afterDatasetsDraw(chart) {
        const a = chart.chartArea, ctx = chart.ctx, xs = chart.scales.x;
        const l = Math.round(a.left), t = Math.round(a.top), r = Math.round(a.right), b = Math.round(a.bottom);
        ctx.save();
        ctx.strokeStyle = '#262626';
        ctx.lineWidth = 1;
        ctx.strokeRect(l + 0.5, t + 0.5, r - l - 1, b - t - 1);
        ctx.beginPath();
        for (let d = 5; d < xs.max; d += 7) {
            const px = Math.round(xs.getPixelForValue(d)) + 0.5;
            if (px < a.left || px > a.right) continue;
            ctx.moveTo(px, b);
            ctx.lineTo(px, b + 2.5);
        }
        ctx.stroke();
        ctx.restore();
    }
};

function addTitle(html, x, y) {
    const el = document.createElement('div');
    el.className = 'title';
    el.innerHTML = html;
    el.style.left = x + 'px';
    el.style.top = y + 'px';
    document.body.appendChild(el);
}

function addLegend(lg) {
    const box = document.createElement('div');
    box.className = 'legend';
    box.style.left = lg.left + 'px';
    box.style.top = lg.top + 'px';
    box.style.width = lg.width + 'px';
    box.style.height = lg.height + 'px';
    legendLabels.forEach(function (label, i) {
        const ry = lg.rows[i] - lg.top - 1;
        if (i === 0) {
            const patch = document.createElement('div');
            patch.className = 'patch';
            patch.style.left = (lg.patchLeft - lg.left - 1) + 'px';
            patch.style.width = lg.patchWidth + 'px';
            patch.style.top = (ry - 3.5) + 'px';
            box.appendChild(patch);
        } else {
            const dot = document.createElement('div');
            dot.className = 'dot';
            dot.style.borderColor = legendColors[i];
            dot.style.left = (lg.markerX - lg.left - 1 - 2.5) + 'px';
            dot.style.top = (ry - 2.5) + 'px';
            box.appendChild(dot);
        }
        const txt = document.createElement('div');
        txt.className = 'txt';
        txt.textContent = label;
        txt.style.left = (lg.textX - lg.left - 1) + 'px';
        txt.style.top = (ry - 6) + 'px';
        box.appendChild(txt);
    });
    document.body.appendChild(box);
}

function drawPanel(p) {
    const wrap = document.createElement('div');
    wrap.className = 'panel';
    wrap.style.left = p.left + 'px';
    wrap.style.top = p.top + 'px';
    const cv = document.createElement('canvas');
    cv.width = p.width;
    cv.height = p.height;
    cv.style.width = p.width + 'px';
    cv.style.height = p.height + 'px';
    wrap.appendChild(cv);
    document.body.appendChild(wrap);

    const xy = rows => rows.map(r => ({ x: r[0], y: r[1] }));
    const byMonth = vals => vals.map((v, i) => ({ x: monthStarts[i], y: v }));
    const marker = { pointRadius: 2.3, pointHoverRadius: 2.3, pointBorderWidth: 1, pointBackgroundColor: '#ffffff' };
    const grid = { color: '#c9c9c9', lineWidth: 1, tickColor: '#262626', tickLength: 4 };

    new Chart(cv, {
        type: 'line',
        data: {
            datasets: [
                Object.assign({ data: xy(p.control), borderColor: '#0a17c4', borderWidth: 2, pointBorderColor: '#1f33ff', order: 0 }, marker),
                Object.assign({ data: xy(p.maskedCA), borderColor: '#108010', borderWidth: 1.8, pointBorderColor: '#1c8c1c', order: 1 }, marker),
                Object.assign({ data: xy(p.masked), borderColor: '#ffa500', borderWidth: 1.8, pointBorderColor: '#ffa500', order: 2 }, marker),
                Object.assign({ data: xy(p.ftir), errors: p.ftir.map(r => r[2]), borderColor: '#1a1a1a', borderWidth: 1.5, pointBorderColor: '#000', order: 3 }, marker),
                { data: byMonth(p.climMean), borderColor: 'rgba(60,60,60,0.7)', borderWidth: 1.3, pointRadius: 0, order: 4 },
                { data: byMonth(p.climHigh), borderColor: 'rgba(0,0,0,0)', borderWidth: 1, pointRadius: 0, fill: '+1', backgroundColor: 'rgba(140,140,140,0.38)', order: 5 },
                { data: byMonth(p.climLow), borderColor: 'rgba(0,0,0,0)', borderWidth: 1, pointRadius: 0, fill: false, order: 6 }
            ]
        },
        options: {
            responsive: false,
            animation: false,
            devicePixelRatio: 1,
            events: [],
            layout: { padding: { left: 0, top: p.padTop, right: p.padRight, bottom: 0 }, autoPadding: false },
            plugins: { legend: { display: false }, tooltip: { enabled: false }, title: { display: false } },
            scales: {
                x: {
                    type: 'linear', min: p.xMin, max: p.xMax,
                    afterBuildTicks: s => { s.ticks = monthStarts.map(v => ({ value: v })); },
                    afterFit: s => { s.height = p.xAxisH; },
                    ticks: {
                        autoSkip: false, minRotation: 45, maxRotation: 45, labelOffset: 8, padding: 4,
                        font: { size: 11.5 }, color: '#000',
                        callback: (v, i) => monthNames[i]
                    },
                    grid: grid,
                    border: { display: false }
                },
                y: {
                    type: 'linear', min: p.yMin, max: p.yMax,
                    afterBuildTicks: s => { s.ticks = p.yTicks.map(v => ({ value: v })); },
                    afterFit: s => { s.width = p.yAxisW; },
                    ticks: { padding: 3, font: { size: 11.5 }, color: '#000', callback: v => p.yFmt(v) },
                    grid: grid,
                    border: { display: false },
                    title: { display: true, text: 'Weighted VMR [ppb]', font: { size: 11.5 }, color: '#000', padding: { top: p.yTitlePad, bottom: 0 } }
                }
            }
        },
        plugins: [errorBars, frame]
    });

    addTitle(p.title, p.titleX, p.titleY);
    addLegend(p.legend);
}

drawPanel({
    left: 0, top: 0, width: 526, height: 330,
    padTop: 32, padRight: 2.7, yAxisW: 55, xAxisH: 34, yTitlePad: 10,
    xMin: -7.9, xMax: 364.1, yMin: 51.3, yMax: 348.4,
    yTicks: [100, 150, 200, 250, 300], yFmt: v => String(v),
    climMean: coClimMean, climLow: coClimLow, climHigh: coClimHigh,
    ftir: coFtir, control: coControl, maskedCA: coMaskedCA, masked: coMasked,
    title: 'CO', titleX: 290, titleY: 22.3,
    legend: { left: 61.7, top: 38.3, width: 159, height: 81, rows: [46.2, 62.4, 78.6, 94.8, 111], textX: 92.7, markerX: 75, patchLeft: 64.3, patchWidth: 21.4 }
});

drawPanel({
    left: 526, top: 0, width: 540, height: 330,
    padTop: 30.7, padRight: 12.5, yAxisW: 55.7, xAxisH: 34, yTitlePad: 14,
    xMin: -7.1, xMax: 364.5, yMin: -0.083, yMax: 2.276,
    yTicks: [0, 0.5, 1, 1.5, 2], yFmt: v => v.toFixed(1),
    climMean: hcnClimMean, climLow: hcnClimLow, climHigh: hcnClimHigh,
    ftir: hcnFtir, control: hcnControl, maskedCA: hcnMaskedCA, masked: hcnMasked,
    title: 'HCN', titleX: 820, titleY: 20,
    legend: { left: 587.8, top: 35, width: 164.4, height: 83.3, rows: [44.3, 60.5, 76.7, 92.9, 109.1], textX: 621, markerX: 602.4, patchLeft: 592.9, patchWidth: 20.3 }
});

drawPanel({
    left: 0, top: 330, width: 526, height: 329,
    padTop: 34, padRight: 3, yAxisW: 52.5, xAxisH: 30.7, yTitlePad: 10,
    xMin: -7.0, xMax: 363, yMin: -0.066, yMax: 3.407,
    yTicks: [0, 0.5, 1, 1.5, 2, 2.5, 3], yFmt: v => v.toFixed(1),
    climMean: ch2oClimMean, climLow: ch2oClimLow, climHigh: ch2oClimHigh,
    ftir: ch2oFtir, control: ch2oControl, maskedCA: ch2oMaskedCA, masked: ch2oMasked,
    title: 'CH<sub>2</sub>O', titleX: 288.5, titleY: 354,
    legend: { left: 57.6, top: 369.3, width: 162.7, height: 82.4, rows: [377.7, 394, 410.3, 426.6, 442.9], textX: 89.8, markerX: 71.9, patchLeft: 61, patchWidth: 22 }
});

drawPanel({
    left: 526, top: 330, width: 540, height: 329,
    padTop: 32.7, padRight: 14.8, yAxisW: 52.7, xAxisH: 30.7, yTitlePad: 14,
    xMin: -7.3, xMax: 364, yMin: 19.84, yMax: 88.83,
    yTicks: [20, 30, 40, 50, 60, 70, 80], yFmt: v => String(v),
    climMean: o3ClimMean, climLow: o3ClimLow, climHigh: o3ClimHigh,
    ftir: o3Ftir, control: o3Control, maskedCA: o3MaskedCA, masked: o3Masked,
    title: 'O<sub>3</sub>', titleX: 819, titleY: 351.7,
    legend: { left: 584, top: 540, width: 162, height: 86, rows: [550.5, 566.7, 582.9, 599.1, 615.3], textX: 617, markerX: 598.7, patchLeft: 587.3, patchWidth: 21.4 }
});
</script>
</body>
</html>
